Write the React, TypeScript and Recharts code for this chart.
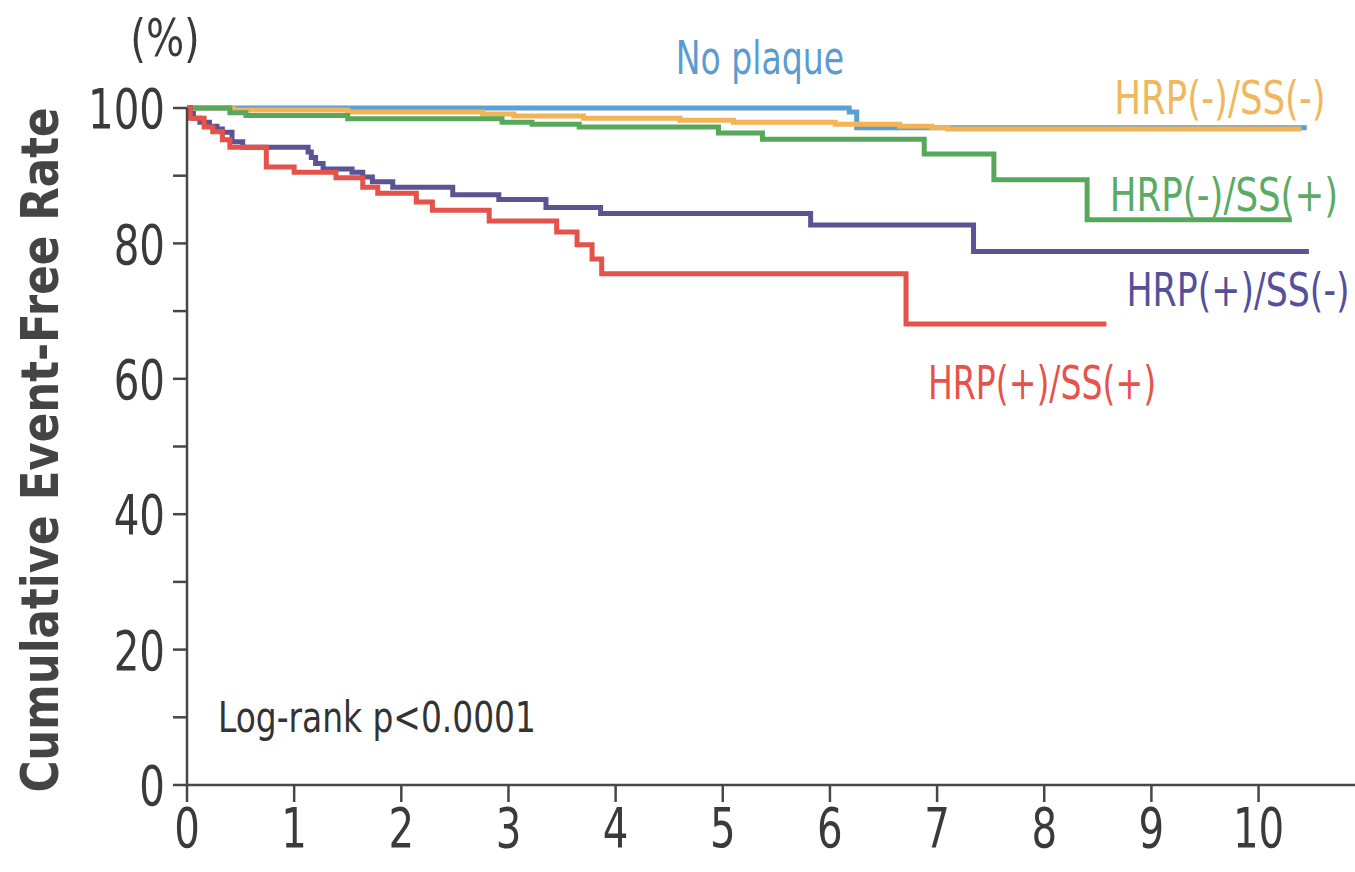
import { LineChart, Line, XAxis, YAxis } from "recharts"

// Kaplan-Meier step points per group: [years, event-free %]
const noPlaque: [number, number][] = [
  [0, 100], [6.18, 99.4], [6.25, 97.1], [10.45, 97.1],
]
const hrpNegSsNeg: [number, number][] = [
  [0, 100], [0.43, 99.7], [1.5, 99.4], [2.76, 99.1], [3.05, 98.8], [3.7, 98.5],
  [4.6, 98.2], [5.1, 97.9], [6.05, 97.6], [6.65, 97.3], [6.95, 97.1], [7.1, 96.9],
  [10.4, 96.9],
]
const hrpNegSsPos: [number, number][] = [
  [0, 100], [0.4, 99.3], [0.55, 98.9], [1.5, 98.4], [2.94, 97.9], [3.22, 97.6],
  [3.66, 97.2], [4.96, 96.3], [5.37, 95.4], [6.88, 93.2], [7.53, 89.4], [8.4, 83.5],
  [10.31, 83.5],
]
const hrpPosSsNeg: [number, number][] = [
  [0, 100], [0.03, 99.2], [0.06, 98.5], [0.12, 97.9], [0.21, 97.3], [0.28, 96.9],
  [0.33, 96.4], [0.42, 95.0], [0.52, 94.2], [1.13, 93.5], [1.16, 92.7], [1.2, 91.8],
  [1.27, 91.0], [1.54, 90.5], [1.64, 89.8], [1.73, 89.1], [1.92, 88.3], [2.48, 87.2],
  [2.91, 86.5], [3.35, 85.3], [3.86, 84.4], [5.82, 82.7], [7.34, 78.8], [10.47, 78.8],
]
const hrpPosSsPos: [number, number][] = [
  [0, 100], [0.03, 98.5], [0.16, 97.2], [0.24, 96.5], [0.33, 95.3], [0.4, 94.2],
  [0.74, 91.3], [1.0, 90.5], [1.39, 89.7], [1.64, 88.3], [1.78, 87.4], [2.14, 86.1],
  [2.29, 84.9], [2.82, 83.3], [3.45, 81.7], [3.64, 79.8], [3.78, 77.7], [3.87, 75.5],
  [6.71, 68.1], [8.58, 68.1],
]

const xTicks = [0, 1, 2, 3, 4, 5, 6, 7, 8, 9, 10]
const yTicks = [0, 10, 20, 30, 40, 50, 60, 70, 80, 90, 100]
const yLabelled = [0, 20, 40, 60, 80, 100]

const FONT = "'Liberation Sans Narrow', 'DejaVu Sans Condensed', 'Roboto Condensed', sans-serif"
const AXIS = "#474747"
const TEXT = "#3a3a3a"
const SQUEEZE = 0.8

const series = [
  { name: "No plaque", points: noPlaque, color: "#5b9fd3" },
  { name: "HRP(-)/SS(-)", points: hrpNegSsNeg, color: "#f3b457" },
  { name: "HRP(-)/SS(+)", points: hrpNegSsPos, color: "#58a85c" },
  { name: "HRP(+)/SS(-)", points: hrpPosSsNeg, color: "#5a5394" },
  { name: "HRP(+)/SS(+)", points: hrpPosSsPos, color: "#e4524a" },
]

const toRows = (pts: [number, number][]) => pts.map(([t, v]) => ({ t, v }))

// narrow tick digits, squeezed horizontally around the tick anchor
function XTick({ x, y, payload }: any) {
  return (
    <text
      transform={`translate(${x},${y}) scale(${SQUEEZE},1)`}
      textAnchor="middle"
      dy="0.76em"
      fill={TEXT}
      fontSize={56}
      fontFamily={FONT}
    >
      {payload.value}
    </text>
  )
}

function YTick({ x, y, payload }: any) {
  if (!yLabelled.includes(payload.value)) return null
  return (
    <text
      transform={`translate(${x},${y}) scale(${SQUEEZE},1)`}
      textAnchor="end"
      dy="0.36em"
      fill={TEXT}
      fontSize={56}
      fontFamily={FONT}
    >
      {payload.value}
    </text>
  )
}

function Note({ x, y, color, size, children, left, sx = 0.82 }: any) {
  return (
    <div
      style={{
        position: "absolute",
        left: x,
        top: y,
        transformOrigin: left ? "left center" : "center center",
        transform: left
          ? `translate(0, -50%) scale(${sx}, 1)`
          : `translate(-50%, -50%) scale(${sx}, 1)`,
        color,
        fontSize: size,
        fontFamily: FONT,
        lineHeight: 1,
        whiteSpace: "nowrap",
      }}
    >
      {children}
    </div>
  )
}

export default function App() {
  return (
    <div style={{ position: "absolute", left: 0, top: 0, width: 1355, height: 872, background: "#fff", overflow: "hidden" }}>
      <LineChart width={1355} height={872} margin={{ top: 108, right: 0, bottom: 0, left: 0 }}>
        <XAxis
          type="number"
          dataKey="t"
          domain={[0, 10.9]}
          ticks={xTicks}
          height={87}
          tickSize={17}
          tickMargin={2}
          stroke={AXIS}
          strokeWidth={2.5}
          tick={<XTick />}
          allowDuplicatedCategory={false}
        />
        <YAxis
          type="number"
          dataKey="v"
          domain={[0, 100]}
          ticks={yTicks}
          width={187}
          tickSize={14}
          tickMargin={8}
          stroke={AXIS}
          strokeWidth={2.5}
          tick={<YTick />}
        />
        {series.map(s => (
          <Line
            key={s.name}
            data={toRows(s.points)}
            dataKey="v"
            type="stepAfter"
            stroke={s.color}
            strokeWidth={5}
            dot={false}
            activeDot={false}
            isAnimationActive={false}
          />
        ))}
      </LineChart>

      <Note x={165} y={38} color={TEXT} size={52} sx={0.86}>(%)</Note>
      <Note x={760} y={58} color="#5b9bd0" size={46} sx={0.8}>No plaque</Note>
      <Note x={1220} y={98} color="#f0b75c" size={46} sx={0.86}>HRP(-)/SS(-)</Note>
      <Note x={1224} y={195} color="#5aab65" size={46} sx={0.86}>HRP(-)/SS(+)</Note>
      <Note x={1238} y={290} color="#55509a" size={46} sx={0.84}>HRP(+)/SS(-)</Note>
      <Note x={1042} y={383} color="#e5534b" size={46} sx={0.8}>HRP(+)/SS(+)</Note>
      <Note x={218} y={718} color="#333" size={42} left sx={0.87}>Log-rank p&lt;0.0001</Note>

      <div
        style={{
          position: "absolute",
          left: 40,
          top: 450,
          transform: "translate(-50%, -50%) rotate(-90deg) scale(0.93, 1)",
          fontFamily: FONT,
          fontWeight: 700,
          fontSize: 52,
          color: "#444",
          whiteSpace: "nowrap",
          lineHeight: 1,
        }}
      >
        Cumulative Event-Free Rate
      </div>
    </div>
  )
}
